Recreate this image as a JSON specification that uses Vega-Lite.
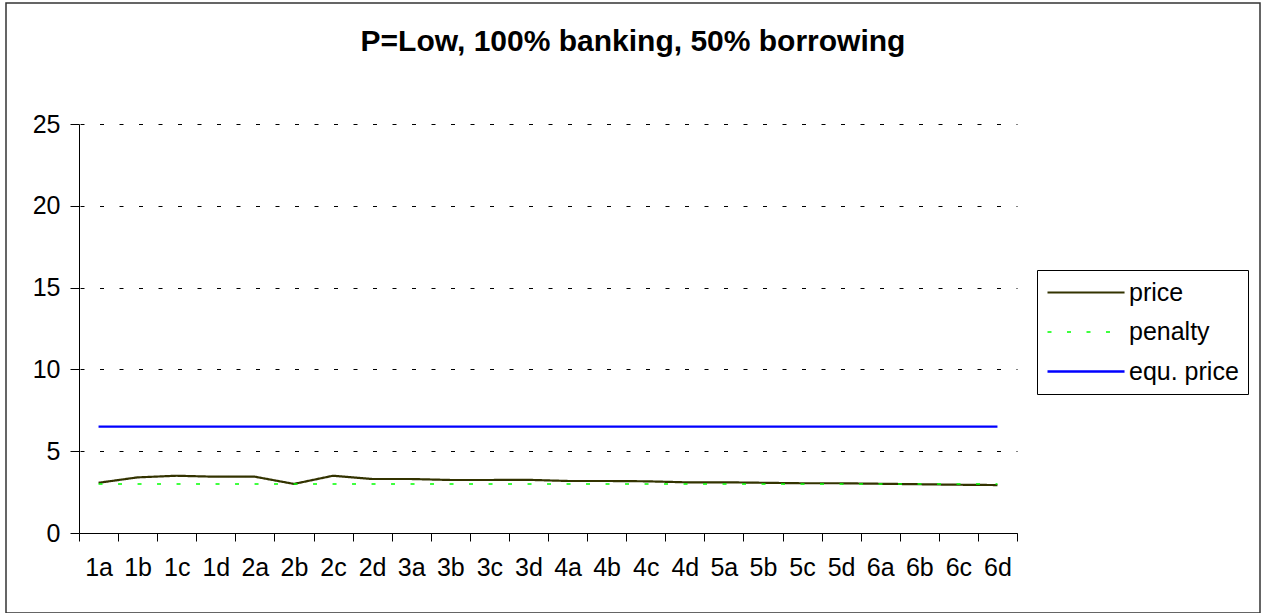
{
  "$schema": "https://vega.github.io/schema/vega-lite/v6.json",
  "autosize": {"type": "none"},
  "width": 1254,
  "height": 610,
  "padding": {"left": 6, "top": 3, "right": 6, "bottom": 0},
  "background": "white",
  "title": {
    "text": "P=Low, 100% banking, 50% borrowing",
    "font": "Liberation Sans",
    "fontSize": 30,
    "fontWeight": "bold",
    "color": "black",
    "anchor": "middle",
    "frame": "group",
    "baseline": "alphabetic",
    "offset": -78
  },
  "data": {
    "values": [
      {"period": "1a", "series": "price", "value": 3.07},
      {"period": "1b", "series": "price", "value": 3.4},
      {"period": "1c", "series": "price", "value": 3.5},
      {"period": "1d", "series": "price", "value": 3.44},
      {"period": "2a", "series": "price", "value": 3.44},
      {"period": "2b", "series": "price", "value": 3.0},
      {"period": "2c", "series": "price", "value": 3.5},
      {"period": "2d", "series": "price", "value": 3.3},
      {"period": "3a", "series": "price", "value": 3.3},
      {"period": "3b", "series": "price", "value": 3.24},
      {"period": "3c", "series": "price", "value": 3.24},
      {"period": "3d", "series": "price", "value": 3.25},
      {"period": "4a", "series": "price", "value": 3.18},
      {"period": "4b", "series": "price", "value": 3.18},
      {"period": "4c", "series": "price", "value": 3.16},
      {"period": "4d", "series": "price", "value": 3.1},
      {"period": "5a", "series": "price", "value": 3.1},
      {"period": "5b", "series": "price", "value": 3.07},
      {"period": "5c", "series": "price", "value": 3.04},
      {"period": "5d", "series": "price", "value": 3.04},
      {"period": "6a", "series": "price", "value": 3.01},
      {"period": "6b", "series": "price", "value": 2.98},
      {"period": "6c", "series": "price", "value": 2.95},
      {"period": "6d", "series": "price", "value": 2.93},
      {"period": "1a", "series": "penalty", "value": 3},
      {"period": "1b", "series": "penalty", "value": 3},
      {"period": "1c", "series": "penalty", "value": 3},
      {"period": "1d", "series": "penalty", "value": 3},
      {"period": "2a", "series": "penalty", "value": 3},
      {"period": "2b", "series": "penalty", "value": 3},
      {"period": "2c", "series": "penalty", "value": 3},
      {"period": "2d", "series": "penalty", "value": 3},
      {"period": "3a", "series": "penalty", "value": 3},
      {"period": "3b", "series": "penalty", "value": 3},
      {"period": "3c", "series": "penalty", "value": 3},
      {"period": "3d", "series": "penalty", "value": 3},
      {"period": "4a", "series": "penalty", "value": 3},
      {"period": "4b", "series": "penalty", "value": 3},
      {"period": "4c", "series": "penalty", "value": 3},
      {"period": "4d", "series": "penalty", "value": 3},
      {"period": "5a", "series": "penalty", "value": 3},
      {"period": "5b", "series": "penalty", "value": 3},
      {"period": "5c", "series": "penalty", "value": 3},
      {"period": "5d", "series": "penalty", "value": 3},
      {"period": "6a", "series": "penalty", "value": 3},
      {"period": "6b", "series": "penalty", "value": 3},
      {"period": "6c", "series": "penalty", "value": 3},
      {"period": "6d", "series": "penalty", "value": 3},
      {"period": "1a", "series": "equ. price", "value": 6.5},
      {"period": "1b", "series": "equ. price", "value": 6.5},
      {"period": "1c", "series": "equ. price", "value": 6.5},
      {"period": "1d", "series": "equ. price", "value": 6.5},
      {"period": "2a", "series": "equ. price", "value": 6.5},
      {"period": "2b", "series": "equ. price", "value": 6.5},
      {"period": "2c", "series": "equ. price", "value": 6.5},
      {"period": "2d", "series": "equ. price", "value": 6.5},
      {"period": "3a", "series": "equ. price", "value": 6.5},
      {"period": "3b", "series": "equ. price", "value": 6.5},
      {"period": "3c", "series": "equ. price", "value": 6.5},
      {"period": "3d", "series": "equ. price", "value": 6.5},
      {"period": "4a", "series": "equ. price", "value": 6.5},
      {"period": "4b", "series": "equ. price", "value": 6.5},
      {"period": "4c", "series": "equ. price", "value": 6.5},
      {"period": "4d", "series": "equ. price", "value": 6.5},
      {"period": "5a", "series": "equ. price", "value": 6.5},
      {"period": "5b", "series": "equ. price", "value": 6.5},
      {"period": "5c", "series": "equ. price", "value": 6.5},
      {"period": "5d", "series": "equ. price", "value": 6.5},
      {"period": "6a", "series": "equ. price", "value": 6.5},
      {"period": "6b", "series": "equ. price", "value": 6.5},
      {"period": "6c", "series": "equ. price", "value": 6.5},
      {"period": "6d", "series": "equ. price", "value": 6.5}
    ]
  },
  "mark": {"type": "line", "strokeCap": "butt", "strokeJoin": "round"},
  "encoding": {
    "x": {
      "field": "period",
      "type": "nominal",
      "bandPosition": 0.5,
      "scale": {"type": "band", "range": [73, 1011], "paddingInner": 0, "paddingOuter": 0},
      "axis": {
        "orient": "bottom",
        "offset": -80,
        "title": null,
        "labelAngle": 0,
        "tickBand": "extent",
        "tickSize": 8,
        "tickColor": "black",
        "domainColor": "black",
        "labelFont": "Liberation Sans",
        "labelFontSize": 25,
        "labelColor": "black",
        "labelPadding": 14,
        "grid": false
      }
    },
    "y": {
      "field": "value",
      "type": "quantitative",
      "scale": {"domain": [0, 25], "range": [530, 121], "nice": false, "zero": true},
      "axis": {
        "orient": "left",
        "offset": -73,
        "title": null,
        "values": [0, 5, 10, 15, 20, 25],
        "tickSize": 9,
        "tickColor": "black",
        "domainColor": "black",
        "labelFont": "Liberation Sans",
        "labelFontSize": 25,
        "labelColor": "black",
        "labelPadding": 10,
        "grid": true,
        "gridColor": "black",
        "gridDash": [4, 15.5],
        "gridDashOffset": 18.5,
        "gridWidth": 1
      }
    },
    "color": {
      "field": "series",
      "type": "nominal",
      "scale": {"domain": ["price", "penalty", "equ. price"], "range": ["#333300", "#00ff00", "#0000ff"]},
      "legend": {
        "title": null,
        "orient": "none",
        "legendX": 1031,
        "legendY": 267,
        "padding": 9,
        "strokeColor": "black",
        "fillColor": "white",
        "symbolType": "M-1,0H5.42",
        "symbolSize": 576,
        "labelOffset": 56,
        "labelFont": "Liberation Sans",
        "labelFontSize": 25,
        "labelColor": "black",
        "rowPadding": 13
      }
    },
    "strokeDash": {
      "field": "series",
      "type": "nominal",
      "scale": {"domain": ["price", "penalty", "equ. price"], "range": [[1, 0], [4, 15.5], [1, 0]]}
    },
    "strokeWidth": {
      "field": "series",
      "type": "ordinal",
      "scale": {"type": "ordinal", "domain": ["price", "penalty", "equ. price"], "range": [2.2, 1.5, 2.4]}
    }
  },
  "config": {
    "view": {"stroke": "#333333", "strokeWidth": 1.5, "fill": "white"}
  }
}
